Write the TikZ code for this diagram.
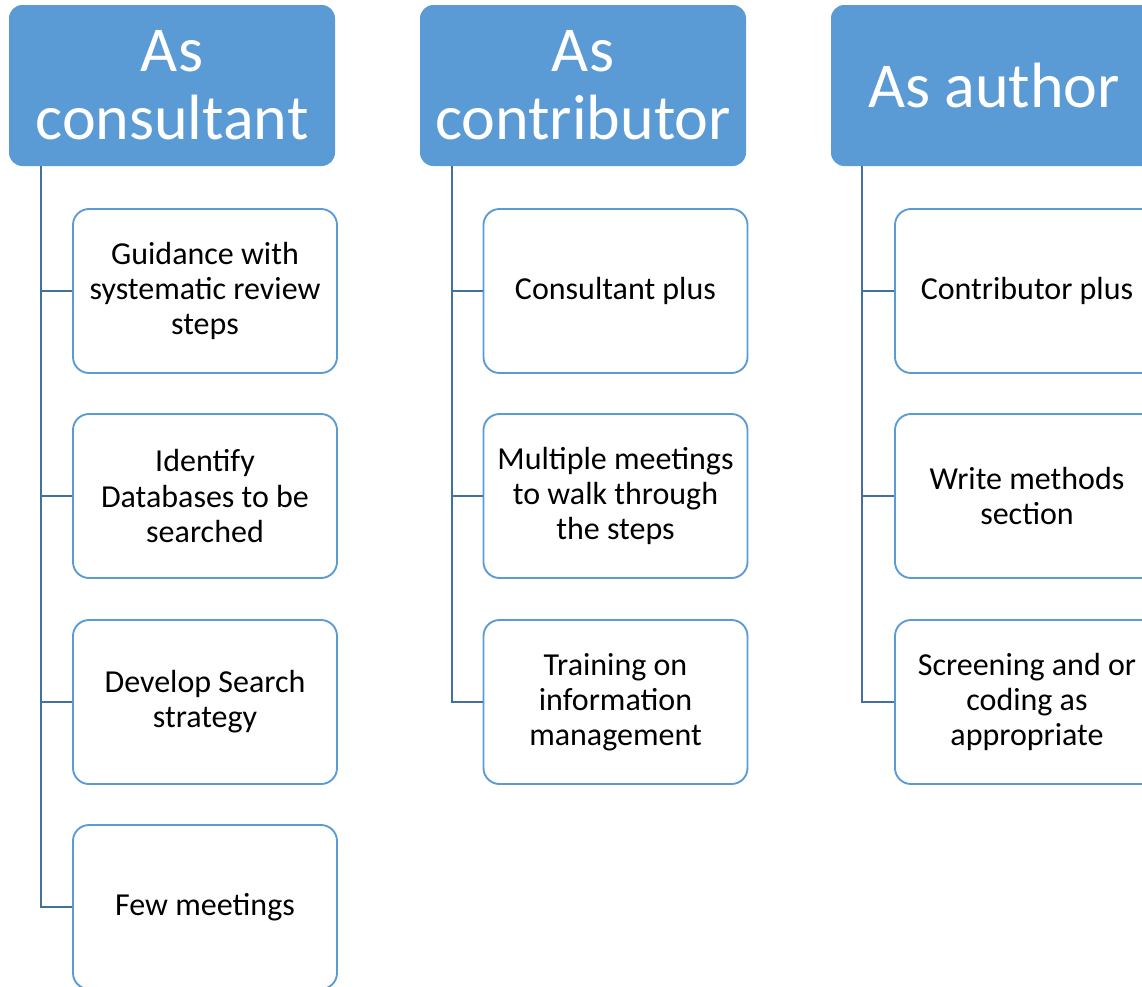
\documentclass[tikz,border=0pt]{standalone}
\usepackage{fontspec}
\setmainfont{Carlito}
\usetikzlibrary{calc}
\definecolor{hdrblue}{HTML}{5B9BD5}
\definecolor{boxline}{HTML}{5B9BD5}
\definecolor{connline}{HTML}{41719C}
\tikzset{
  hdr/.style={fill=hdrblue, draw=none, rounded corners=10pt, minimum width=244.5pt, minimum height=120.75pt,
    text=white, align=center, font=\fontsize{48}{51}\selectfont, inner sep=0pt},
  child/.style={fill=white, draw=boxline, line width=1.4pt, rounded corners=12pt, minimum width=198pt,
    minimum height=123pt, align=center, font=\fontsize{24}{26.4}\selectfont, inner sep=0pt},
  conn/.style={draw=connline, line width=1.6pt}
}
\begin{document}
\begin{tikzpicture}[x=0.75pt,y=-0.75pt]
\useasboundingbox (0,0) rectangle (1142,986);
\clip (0,0) rectangle (1142,986);
% headers
\node[hdr] (h1) at (172,85.5) {As\\consultant};
\node[hdr] (h2) at (583,85.5) {As\\contributor};
\node[hdr] (h3) at (994,85.5) {As author};
% trunk starts
\coordinate (t1) at ($(h1.south west)+(32,0)$);
\coordinate (t2) at ($(h2.south west)+(32,0)$);
\coordinate (t3) at ($(h3.south west)+(31,0)$);
% consultant children
\node[child] (c11) at (205,291) {Guidance with\\systematic review\\steps};
\node[child] (c12) at (205,496) {Identify\\Databases to be\\searched};
\node[child] (c13) at (205,702) {Develop Search\\strategy};
\node[child] (c14) at (205,907) {Few meetings};
% contributor children
\node[child] (c21) at (615.5,291) {Consultant plus};
\node[child] (c22) at (615.5,496) {Multiple meetings\\to walk through\\the steps};
\node[child] (c23) at (615.5,702) {Training on\\information\\management};
% author children
\node[child] (c31) at (1027,291) {Contributor plus};
\node[child] (c32) at (1027,496) {Write methods\\section};
\node[child] (c33) at (1027,702) {Screening and or\\coding as\\appropriate};
% connectors
\foreach \c in {c11,c12,c13,c14} \draw[conn] (t1) |- (\c.west);
\foreach \c in {c21,c22,c23} \draw[conn] (t2) |- (\c.west);
\foreach \c in {c31,c32,c33} \draw[conn] (t3) |- (\c.west);
\end{tikzpicture}
\end{document}
